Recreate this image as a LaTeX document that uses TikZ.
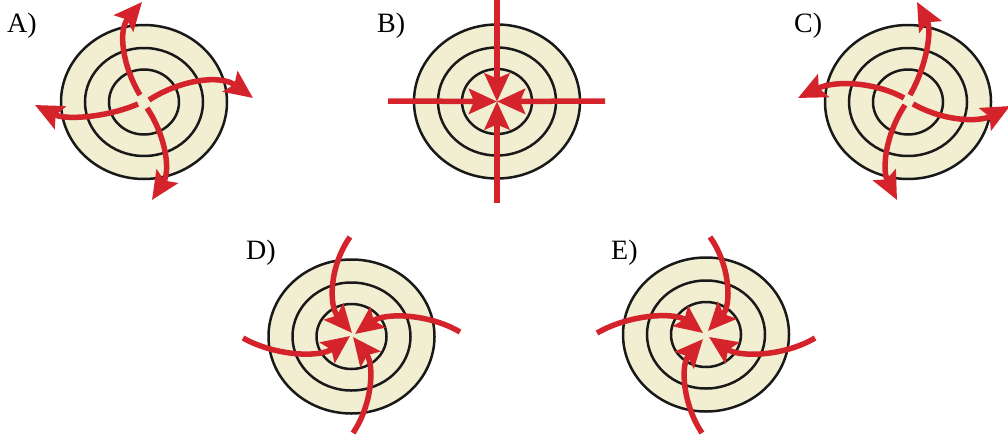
\documentclass[tikz,border=0pt]{standalone}
\usepackage{fontspec}
\setmainfont{Liberation Serif}
\usetikzlibrary{arrows.meta}
\definecolor{cream}{HTML}{F1EED1}
\definecolor{flowred}{HTML}{D4232B}

\begin{document}
\begin{tikzpicture}[x=1pt,y=-1pt,
  ring/.style={draw=black!90,fill=cream,line width=2.5pt},
  flow/.style={draw=flowred,line width=5.5pt,-{Stealth[length=28pt,width=25pt,inset=5pt]}},
  lbl/.style={anchor=base west,inner sep=0pt,font=\fontsize{28}{30}\selectfont}]
\useasboundingbox (0,0) rectangle (1008,439);
% ring centres
\foreach \c/\x/\y in {A/144/102,B/497/101.5,C/908/102,D/351.5/336.5,E/706/334.5}
  \coordinate (\c) at (\x,\y);
\foreach \c in {A,B,C,D,E}
  \foreach \r/\s in {83/77,59/54,35/32.5}
    \draw[ring] (\c) ellipse[x radius=\r,y radius=\s];
% labels
\node[lbl] (la) at (7,32) {A)};
\node[lbl] (lb) at (377,32) {B)};
\node[lbl] (lc) at (794,32) {C)};
\node[lbl] (ld) at (246,259) {D)};
\node[lbl] (le) at (611,259) {E)};
% A: outward, turning
\draw[flow] (140,95) .. controls (122,65) and (118,30) .. (142,2);
\draw[flow] (149,100) .. controls (180,80) and (220,74) .. (253,98);
\draw[flow] (147,108) .. controls (167,138) and (170,172) .. (152,200);
\draw[flow] (138,104) .. controls (105,118) and (65,120) .. (35,105);
% B: straight in
\foreach \x/\y in {388/101,605/101,497/0,497/203}
  \draw[flow] (\x,\y) -- (B);
% C: outward, other way
\draw[flow] (910,95) .. controls (927,65) and (932,30) .. (917,2);
\draw[flow] (913,104) .. controls (945,122) and (980,122) .. (1010,106);
\draw[flow] (905,105) .. controls (885,135) and (882,170) .. (897,200);
\draw[flow] (904,98) .. controls (875,82) and (835,80) .. (798,98);
% D: inward, turning
\draw[flow] (350,237) .. controls (330,265) and (328,305) .. (352,333);
\draw[flow] (460,332) .. controls (430,314) and (385,312) .. (355,334);
\draw[flow] (353,433) .. controls (372,405) and (375,365) .. (353,337);
\draw[flow] (243,338) .. controls (275,356) and (320,358) .. (350,336);
% E: inward, other way
\draw[flow] (710,237) .. controls (730,265) and (732,305) .. (708,331);
\draw[flow] (815,338) .. controls (785,356) and (740,358) .. (709,337);
\draw[flow] (702,433) .. controls (683,405) and (680,365) .. (703,339);
\draw[flow] (597,333) .. controls (630,314) and (675,312) .. (703,333);
\end{tikzpicture}
\end{document}
